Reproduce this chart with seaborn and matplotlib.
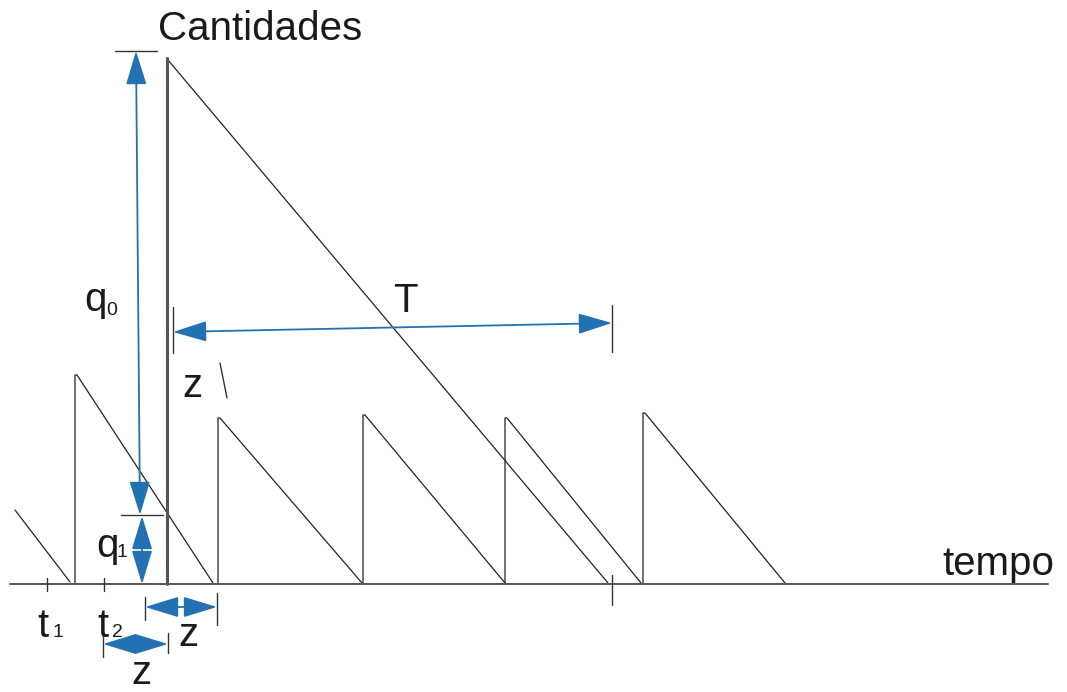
import pandas as pd
import matplotlib
matplotlib.use('Agg')
import matplotlib.pyplot as plt
import seaborn as sns

# all coordinates (pixel space, y grows downwards)
baseline_y = 584
axis_x = [10, 1048]

# small sawtooth cycles: vertical rise at start_x up to top_y, then linear drop to end_x
saw_start_x = [75, 218, 363, 505, 643]
saw_top_y = [375, 418, 415, 418, 413]
saw_end_x = [213, 362, 505, 641, 785]

# partial cycle at the far left
partial_x = [15, 70]
partial_y = [510, 582]

# the big order q0
big_x = 167
big_top_y = 58
big_end_x = 608

# dimension arrows (start, end)
q0_arrow = [(136, 51), (140, 515)]
q1_arrow = [(142, 516), (142, 584)]
T_arrow = [(173, 332), (612, 323)]
z1_arrow = [(145, 607), (217, 607)]
z2_arrow = [(103, 644), (168, 644)]

# extension / tick bars
bars = {
    'q0_top': ([115, 157], [51, 51]),
    'q1_top': ([121, 163], [515, 515]),
    'T_left': ([173, 173], [307, 353]),
    'T_right': ([612, 612], [305, 352]),
    'T_base': ([612, 612], [575, 605]),
    'z1_left': ([145, 145], [597, 620]),
    'z1_right': ([217, 217], [593, 625]),
    'z2_left': ([103, 103], [633, 657]),
    'z2_right': ([168, 168], [633, 653]),
    't1': ([47, 47], [578, 591]),
    't2': ([104, 104], [578, 591]),
    'slash': ([220, 227], [363, 398]),
}

blue = '#2271b3'

sns.set_theme(style='white')
plt.rcParams['font.family'] = ['Liberation Sans', 'DejaVu Sans']

fig = plt.figure(figsize=(10.67, 6.92), dpi=100)
ax = fig.add_axes([0, 0, 1, 1])

# build the sawtooth segments
rows = []
for i, (sx, ty, ex) in enumerate(zip(saw_start_x, saw_top_y, saw_end_x)):
    for x, y in [(sx, baseline_y), (sx, ty), (sx + 2, ty), (ex, baseline_y - 1)]:
        rows.append({'seg': f's{i}', 'x': x, 'y': y})
for x, y in zip(partial_x, partial_y):
    rows.append({'seg': 'p', 'x': x, 'y': y})
for x, y in [(big_x + 1, big_top_y + 2), (big_end_x, baseline_y - 1)]:
    rows.append({'seg': 'big', 'x': x, 'y': y})
saw = pd.DataFrame(rows)

sns.lineplot(data=saw, x='x', y='y', units='seg', estimator=None, sort=False,
             color='#222222', lw=0.9, ax=ax)

# big vertical stroke and time axis
sns.lineplot(x=[big_x, big_x], y=[baseline_y, big_top_y], color='#555555',
             lw=2.2, estimator=None, sort=False, ax=ax)
sns.lineplot(x=axis_x, y=[baseline_y, baseline_y], color='#555555',
             lw=1.4, estimator=None, sort=False, ax=ax)

bar_df = pd.DataFrame([{'seg': k, 'x': x, 'y': y}
                       for k, (xs, ys) in bars.items() for x, y in zip(xs, ys)])
sns.lineplot(data=bar_df, x='x', y='y', units='seg', estimator=None, sort=False,
             color='#333333', lw=1.0, ax=ax)

# arrows
for start, end in [q0_arrow, q1_arrow, T_arrow, z1_arrow, z2_arrow]:
    ax.annotate('', xy=end, xytext=start,
                arrowprops=dict(arrowstyle='<|-|>,head_length=1.05,head_width=0.32',
                                mutation_scale=20, color=blue, lw=1.3,
                                shrinkA=0, shrinkB=0))

# labels
big = 29
sub = 14
txt = '#1a1a1a'
ax.text(158, 40, 'Cantidades', fontsize=big, color=txt, va='baseline', ha='left')
ax.text(942, 575, 'tempo', fontsize=big, color=txt, va='baseline', ha='left')
ax.text(405, 312, 'T', fontsize=big, color=txt, va='baseline', ha='center')
ax.text(84, 311, 'q', fontsize=big, color=txt, va='baseline', ha='left')
ax.text(106, 315, '0', fontsize=sub, color=txt, va='baseline', ha='left')
ax.text(96, 557, 'q', fontsize=big, color=txt, va='baseline', ha='left')
ax.text(117, 557, '1', fontsize=sub, color=txt, va='baseline', ha='left')
ax.text(182, 397, 'z', fontsize=big, color=txt, va='baseline', ha='left')
ax.text(37, 637, 't', fontsize=big, color=txt, va='baseline', ha='left')
ax.text(53, 637, '1', fontsize=sub, color=txt, va='baseline', ha='left')
ax.text(97, 637, 't', fontsize=big, color=txt, va='baseline', ha='left')
ax.text(112, 637, '2', fontsize=sub, color=txt, va='baseline', ha='left')
ax.text(178, 646, 'z', fontsize=big, color=txt, va='baseline', ha='left')
ax.text(131, 684, 'z', fontsize=big, color=txt, va='baseline', ha='left')

ax.set_xlim(0, 1067)
ax.set_ylim(692, 0)
ax.set_axis_off()
fig.savefig('out.png', dpi=100)
